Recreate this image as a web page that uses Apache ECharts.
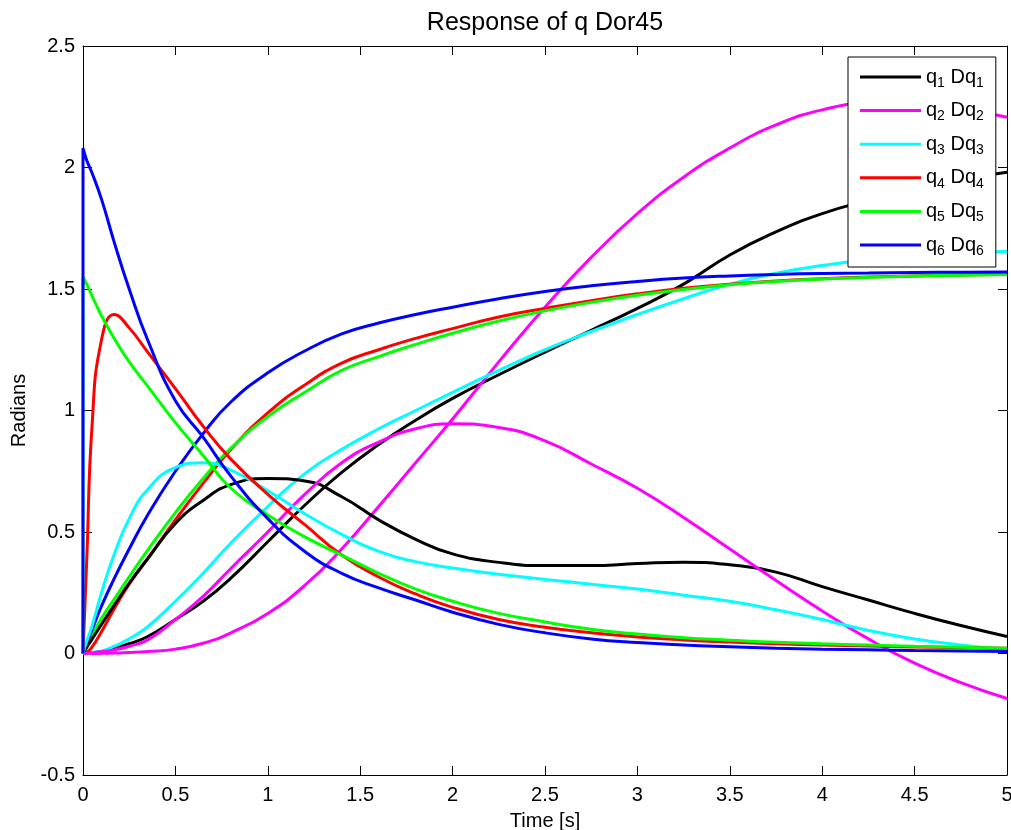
<!DOCTYPE html>
<html><head><meta charset="utf-8">
<script src="https://cdn.jsdelivr.net/npm/echarts@6/dist/echarts.min.js"></script>
<style>html,body{margin:0;padding:0;background:#fff;overflow:hidden}#c{width:1011px;height:830px}</style>
</head><body><div id="c"></div>
<script>
// time samples [s]
const T = [0, 0, 0.02, 0.05, 0.1, 0.17, 0.25, 0.35, 0.5, 0.65, 0.8, 1.0, 1.2, 1.4, 1.6, 1.8, 2.0, 2.25, 2.5, 2.75, 3.0, 3.25, 3.5, 3.75, 4.0, 4.25, 4.5, 4.75, 5.0];
// joint positions
const q1 = [0,0,0,0.003,0.008,0.021,0.04,0.07,0.14,0.215,0.31,0.46,0.61,0.745,0.86,0.96,1.05,1.147,1.24,1.33,1.42,1.52,1.64,1.735,1.81,1.865,1.91,1.95,1.98];
const q2 = [0,0,0,0,0.001,0.002,0.004,0.008,0.018,0.042,0.085,0.165,0.28,0.43,0.605,0.785,0.965,1.2,1.425,1.63,1.81,1.96,2.08,2.175,2.237,2.264,2.262,2.243,2.207];
const q3 = [0,0,0.001,0.004,0.01,0.03,0.06,0.11,0.215,0.33,0.455,0.605,0.74,0.84,0.925,1.0,1.075,1.165,1.25,1.325,1.395,1.46,1.52,1.565,1.597,1.62,1.636,1.647,1.655];
const q4 = [0,0,0.004,0.028,0.09,0.185,0.285,0.39,0.55,0.7,0.84,0.99,1.105,1.195,1.25,1.297,1.337,1.385,1.42,1.452,1.48,1.503,1.52,1.533,1.542,1.549,1.554,1.558,1.561];
const q5 = [0,0,0.03,0.075,0.145,0.225,0.315,0.425,0.58,0.72,0.845,0.975,1.075,1.165,1.222,1.272,1.318,1.368,1.41,1.445,1.474,1.498,1.517,1.531,1.541,1.548,1.553,1.557,1.56];
const q6 = [0,0,0.041,0.1,0.195,0.31,0.43,0.57,0.75,0.905,1.035,1.155,1.245,1.315,1.36,1.395,1.425,1.46,1.49,1.513,1.531,1.545,1.554,1.56,1.564,1.566,1.568,1.569,1.57];
// joint velocities
const dq1 = [0,0,0.025,0.06,0.12,0.2,0.29,0.39,0.535,0.63,0.695,0.72,0.71,0.645,0.55,0.47,0.41,0.375,0.362,0.362,0.37,0.376,0.365,0.335,0.275,0.22,0.165,0.115,0.07];
const dq2 = [0,0,0.001,0.003,0.007,0.015,0.03,0.056,0.14,0.235,0.35,0.5,0.655,0.785,0.87,0.925,0.945,0.93,0.875,0.78,0.68,0.56,0.43,0.3,0.175,0.06,-0.04,-0.12,-0.185];
const dq3 = [0,0,0.05,0.115,0.25,0.41,0.555,0.675,0.765,0.785,0.755,0.67,0.575,0.49,0.42,0.378,0.352,0.326,0.305,0.285,0.265,0.24,0.215,0.18,0.14,0.095,0.06,0.035,0.015];
const dq4 = [0,0,0.38,0.95,1.29,1.395,1.34,1.24,1.09,0.935,0.8,0.655,0.53,0.405,0.315,0.245,0.19,0.14,0.108,0.085,0.068,0.056,0.047,0.04,0.035,0.031,0.027,0.024,0.022];
const dq5 = [0,1.55,1.52,1.47,1.39,1.295,1.2,1.1,0.95,0.815,0.68,0.57,0.48,0.405,0.33,0.265,0.215,0.165,0.13,0.1,0.08,0.065,0.055,0.046,0.04,0.035,0.03,0.026,0.022];
const dq6 = [0,2.08,2.03,1.975,1.87,1.69,1.5,1.29,1.04,0.89,0.73,0.555,0.42,0.33,0.27,0.22,0.17,0.12,0.085,0.06,0.045,0.035,0.028,0.022,0.018,0.015,0.012,0.01,0.008];

const legendNames = ['q_1 Dq_1','q_2 Dq_2','q_3 Dq_3','q_4 Dq_4','q_5 Dq_5','q_6 Dq_6'];
const colors = ['#000000','#ff00ff','#00ffff','#ff0000','#00ff00','#0000ff'];
const Q = [q1,q2,q3,q4,q5,q6];
const DQ = [dq1,dq2,dq3,dq4,dq5,dq6];

const FONT = '"Liberation Sans", Arial, Helvetica, sans-serif';
function pairs(ys){ return T.map((t,i)=>[t, ys[i]]); }
function mkSeries(name, ys, color){
  return {type:'line', name:name, data:pairs(ys), symbol:'none', showSymbol:false,
    smooth:0.5, lineStyle:{color:color, width:3}, itemStyle:{color:color},
    xAxisIndex:0, yAxisIndex:0, animation:false, emphasis:{disabled:true}};
}
const series = [];
for (let i=0;i<6;i++) series.push(mkSeries(legendNames[i], Q[i], colors[i]));
for (let i=0;i<6;i++) series.push(mkSeries(legendNames[i], DQ[i], colors[i]));

const axisCommon = {
  axisLine:{show:true, onZero:false, lineStyle:{color:'#000', width:1}},
  axisTick:{show:true, inside:true, length:9, lineStyle:{color:'#000', width:1}},
  splitLine:{show:false}
};
const labelStyle = {color:'#000', fontSize:20, fontFamily:FONT};

const chart = echarts.init(document.getElementById('c'), null, {renderer:'canvas'});
chart.setOption({
  animation:false,
  backgroundColor:'#fff',
  title:{text:'Response of q Dor45', left:545, top:11, padding:0, textAlign:'center',
    textStyle:{color:'#000', fontSize:25, fontWeight:'normal', fontFamily:FONT}},
  grid:{left:83, right:4, top:46, bottom:55, containLabel:false, outerBoundsMode:'none'},
  xAxis:[
    Object.assign({type:'value', min:0, max:5, interval:0.5, position:'bottom',
      axisLabel:Object.assign({margin:10}, labelStyle),
      name:'Time [s]', nameLocation:'middle', nameGap:36,
      nameTextStyle:{color:'#000', fontSize:20, fontFamily:FONT}}, axisCommon),
    Object.assign({type:'value', min:0, max:5, interval:0.5, position:'top',
      axisLabel:{show:false}}, axisCommon)
  ],
  yAxis:[
    Object.assign({type:'value', min:-0.5, max:2.5, interval:0.5, position:'left',
      axisLabel:Object.assign({margin:8}, labelStyle),
      name:'Radians', nameLocation:'middle', nameGap:53, nameRotate:90,
      nameTextStyle:{color:'#000', fontSize:20, fontFamily:FONT}}, axisCommon),
    Object.assign({type:'value', min:-0.5, max:2.5, interval:0.5, position:'right',
      axisLabel:{show:false}}, axisCommon)
  ],
  legend:{
    data:legendNames, orient:'vertical', left:848, top:57,
    itemWidth:61, itemHeight:3, itemGap:10.6, icon:'rect',
    padding:[10,12,9,12], backgroundColor:'#fff', borderColor:'#000', borderWidth:1, borderRadius:0,
    selectedMode:false, itemStyle:{borderWidth:0},
    textStyle:{color:'#000', fontSize:20, fontFamily:FONT,
      rich:{
        a:{fontSize:20, fontFamily:FONT, color:'#000', lineHeight:26},
        s:{fontSize:14, fontFamily:FONT, color:'#000', lineHeight:26, verticalAlign:'bottom'}
      }},
    formatter:function(n){ return '{a|' + n.replace(/_(\d)/g, '}{s|$1}{a|') + '}'; }
  },
  series:series
});
</script></body></html>
